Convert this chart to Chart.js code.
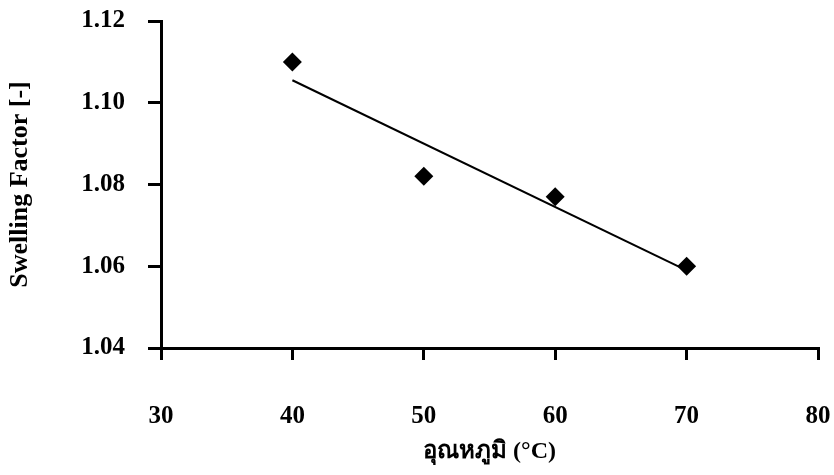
<!DOCTYPE html>
<html>
<head>
<meta charset="utf-8">
<script src="https://cdn.jsdelivr.net/npm/chart.js@4.4.0/dist/chart.umd.min.js"></script>
<style>
    body { margin: 0; background: #fff; }
    #wrap { width: 834px; height: 475px; }
</style>
</head>
<body>
<div id="wrap"><canvas id="chart"></canvas></div>
<script>
// Measured points (temperature vs swelling factor)
const temps = [40, 50, 60, 70];
const swelling = [1.110, 1.082, 1.077, 1.060];

// Trend line end points
const trendX = [40, 70];
const trendY = [1.1055, 1.059];

// Axis ticks
const xTicks = [30, 40, 50, 60, 70, 80];
const yTicks = [1.04, 1.06, 1.08, 1.10, 1.12];

const fontFamily = "'Liberation Serif', 'Times New Roman', serif";

const ctx = document.getElementById('chart').getContext('2d');

new Chart(ctx, {
    type: 'scatter',
    data: {
        datasets: [
            {
                label: 'Swelling Factor',
                data: temps.map((t, i) => ({ x: t, y: swelling[i] })),
                pointStyle: 'rectRot',
                pointRadius: 9.5,
                pointHoverRadius: 9.5,
                backgroundColor: '#000',
                borderColor: '#000',
                borderWidth: 0
            },
            {
                type: 'line',
                label: 'Trend',
                data: trendX.map((t, i) => ({ x: t, y: trendY[i] })),
                borderColor: '#000',
                borderWidth: 2,
                pointRadius: 0,
                fill: false
            }
        ]
    },
    options: {
        responsive: true,
        maintainAspectRatio: false,
        animation: false,
        layout: {
            padding: { top: 21, right: 16, bottom: 0, left: 0 }
        },
        plugins: {
            legend: { display: false },
            tooltip: { enabled: false }
        },
        scales: {
            x: {
                type: 'linear',
                min: 30,
                max: 80,
                afterBuildTicks: axis => { axis.ticks = xTicks.map(v => ({ value: v })); },
                afterFit: axis => {
                    axis.height = 127;
                    // keep the label padding from pushing the plot inwards
                    axis.paddingLeft = 0;
                    axis.paddingRight = 0;
                },
                border: { display: true, color: '#000', width: 3 },
                grid: {
                    drawOnChartArea: false,
                    drawTicks: true,
                    tickLength: 12,
                    color: '#000',
                    lineWidth: 3
                },
                ticks: {
                    color: '#000',
                    padding: 42,
                    maxRotation: 0,
                    font: { family: fontFamily, size: 25, weight: 'bold' }
                },
                title: {
                    display: true,
                    text: 'อุณหภูมิ (°C)',
                    color: '#000',
                    padding: { top: 0, bottom: 9 },
                    font: { family: fontFamily, size: 24, weight: 'bold' }
                }
            },
            y: {
                type: 'linear',
                min: 1.04,
                max: 1.12,
                afterBuildTicks: axis => { axis.ticks = yTicks.map(v => ({ value: v })); },
                afterFit: axis => {
                    axis.width = 161;
                    axis.paddingTop = 0;
                    axis.paddingBottom = 0;
                },
                border: { display: true, color: '#000', width: 3 },
                grid: {
                    drawOnChartArea: false,
                    drawTicks: true,
                    tickLength: 13,
                    color: '#000',
                    lineWidth: 3
                },
                ticks: {
                    color: '#000',
                    padding: 23,
                    callback: v => v.toFixed(2),
                    font: { family: fontFamily, size: 25, weight: 'bold' }
                },
                title: {
                    display: true,
                    text: 'Swelling Factor [-]',
                    color: '#000',
                    padding: { top: 5, bottom: 0 },
                    font: { family: fontFamily, size: 26, weight: 'bold' }
                }
            }
        }
    }
});
</script>
</body>
</html>
